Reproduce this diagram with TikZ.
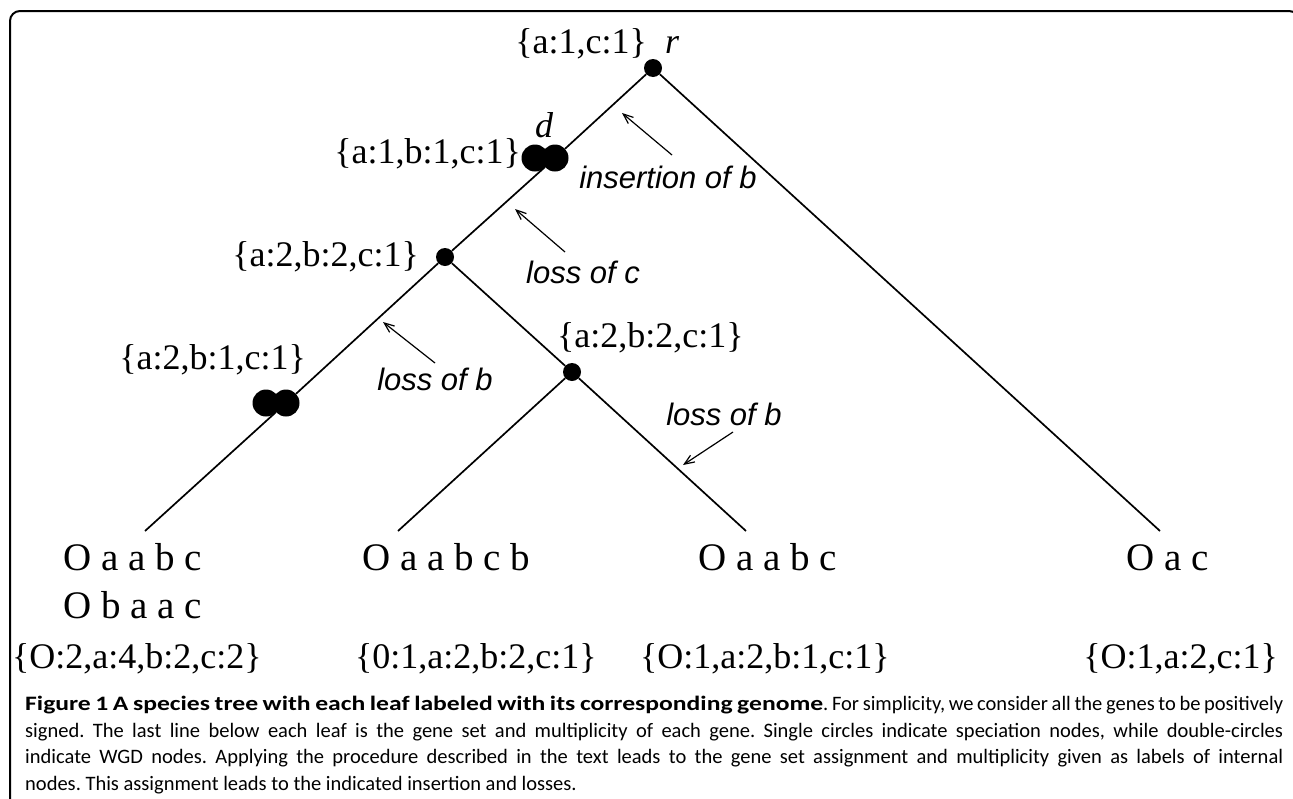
\documentclass[tikz,border=0pt]{standalone}
\usepackage{fontspec}
\setmainfont{Liberation Serif}
\newfontfamily\evfont{Liberation Sans}
\newfontfamily\capfont{Carlito}
\newfontfamily\capboldfont[FakeStretch=1.25]{Carlito Bold}
\usetikzlibrary{arrows.meta,positioning}

\tikzstyle{spec} = [circle, fill=black, inner sep=0pt, minimum size=18pt]
\tikzstyle{wgd} = [circle, fill=black, inner sep=0pt, minimum size=27pt]
\tikzstyle{gset} = [inner sep=0pt, font=\fontsize{36}{40}\selectfont]
\tikzstyle{genome} = [inner sep=0pt, anchor=base, font=\fontsize{39}{44}\selectfont]
\tikzstyle{event} = [inner sep=0pt, anchor=base, font=\evfont\itshape\fontsize{31}{36}\selectfont]
\tikzstyle{capline} = [inner sep=0pt, anchor=base west, font=\capfont\fontsize{20.5}{26}\selectfont\frenchspacing]

\begin{document}
\begin{tikzpicture}[x=1pt, y=-1pt,
  branch/.style={line width=1.7pt},
  evarrow/.style={line width=1.2pt, -{Straight Barb[length=10pt,width=8pt]}}]
\useasboundingbox (0,0) rectangle (1293,798);
\draw[line width=2pt, rounded corners=10pt] (10,830) -- (10,11) -- (1299,11) -- (1299,830);

% Define nodes
\node[spec] (r)  at (653,68)  {};
\node[wgd]  (dl) at (535,158) {};
\node[wgd]  (d)  at (555,158) {};
\node[spec] (n1) at (445,257) {};
\node[wgd]  (wl) at (266,403) {};
\node[wgd]  (w)  at (286,403) {};
\node[spec] (n2) at (572,372) {};
\coordinate (l1) at (145,531);
\coordinate (l2) at (398,531);
\coordinate (l3) at (746,531);
\coordinate (l4) at (1160,531);

% Edges
\draw[branch] (r) -- (d) -- (n1) -- (w) -- (l1);
\draw[branch] (n1) -- (n2) -- (l3);
\draw[branch] (n2) -- (l2);
\draw[branch] (r) -- (l4);

% Internal labels
\node[gset, anchor=east] (rset)  at (647,44)  {\{a:1,c:1\}};
\node[gset, font=\itshape\fontsize{36}{40}\selectfont] (rname) at (672,45) {r};
\node[gset, anchor=east] (dset)  at (521,154) {\{a:1,b:1,c:1\}};
\node[gset, font=\itshape\fontsize{36}{40}\selectfont] (dname) at (544,125) {d};
\node[gset, anchor=east] (n1set) at (419,257) {\{a:2,b:2,c:1\}};
\node[gset, anchor=east] (wset)  at (306,360) {\{a:2,b:1,c:1\}};
\node[gset, anchor=west] (n2set) at (557,338) {\{a:2,b:2,c:1\}};

% Events
\node[event] (ins)   at (668,188) {insertion of b};
\node[event] (lossc) at (583,283) {loss of c};
\node[event] (lossb) at (435,390) {loss of b};
\node[event] (lossbb) at (724,425) {loss of b};
\coordinate (insTip)    at (622,113);
\coordinate (losscTip)  at (515,209);
\coordinate (lossbTip)  at (383,322);
\coordinate (lossbbTip) at (683,465);
\draw[evarrow] ([shift={(4pt,33pt)}]ins.base) -- (insTip);
\draw[evarrow] ([shift={(-18pt,31pt)}]lossc.base) -- (losscTip);
\draw[evarrow] ([shift={(0pt,27pt)}]lossb.base) -- (lossbTip);
\draw[evarrow] ([shift={(9pt,-7pt)}]lossbb.base) -- (lossbbTip);

% Leaves
\node[genome, anchor=base west] (g1)  at (63,570)  {O a a b c};
\node[genome, anchor=base west] (g1b) at (63,618)  {O b a a c};
\node[genome, anchor=base west] (g2)  at (362,570) {O a a b c b};
\node[genome, anchor=base west] (g3)  at (698,570) {O a a b c};
\node[genome] (g4)  at (1168,570) {O a c};
\node[gset, anchor=base west] (s1) at (12,668)  {\{O:2,a:4,b:2,c:2\}};
\node[gset, anchor=base west] (s2) at (355,668) {\{0:1,a:2,b:2,c:1\}};
\node[gset, anchor=base west] (s3) at (640,668) {\{O:1,a:2,b:1,c:1\}};
\node[gset, anchor=base east] (s4) at (1278,668) {\{O:1,a:2,c:1\}};

% Caption
\node[capline] (c1) at (25,710) {\makebox[1258pt][s]{{\capboldfont Figure 1 A species tree with each leaf labeled with its corresponding genome}. For simplicity, we consider all the genes to be positively}};
\node[capline] (c2) at (25,737) {\makebox[1258pt][s]{signed. The last line below each leaf is the gene set and multiplicity of each gene. Single circles indicate speciation nodes, while double-circles}};
\node[capline] (c3) at (25,763) {\makebox[1258pt][s]{indicate WGD nodes. Applying the procedure described in the text leads to the gene set assignment and multiplicity given as labels of internal}};
\node[capline] (c4) at (25,790) {nodes. This assignment leads to the indicated insertion and losses.};
\end{tikzpicture}
\end{document}
